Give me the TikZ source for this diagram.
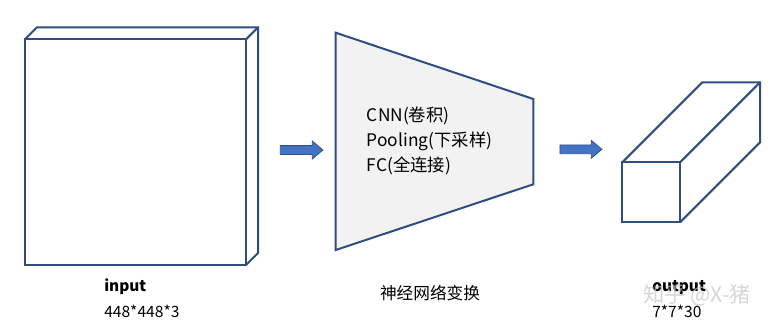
\documentclass[tikz,border=0pt]{standalone}
\usepackage{fontspec}
\setmainfont{Noto Sans CJK SC}
\usepackage{xcolor}
\definecolor{edgeColor}{HTML}{2F4D7E}
\definecolor{arrowFill}{HTML}{4472C4}
\definecolor{arrowEdge}{HTML}{2F528F}
\definecolor{netFill}{HTML}{F2F2F2}
\usepackage{tikz}
\usetikzlibrary{shapes.arrows}
\tikzset{
  cubeface/.style={
    draw=edgeColor,
    line width=1.5pt,
    fill=white,
    inner sep=0pt,
    outer sep=0pt
  },
  cubeedge/.style={
    draw=edgeColor,
    line width=1.5pt,
    line join=miter
  },
  flowarrow/.style={
    single arrow,
    draw=arrowEdge,
    fill=arrowFill,
    line width=0.6pt,
    inner sep=3pt,
    single arrow head extend=3.4pt,
    single arrow tip angle=80,
    minimum height=32pt
  },
  dimlabel/.style={
    anchor=west,
    inner sep=0pt,
    font=\fontsize{11.7}{13}\selectfont
  },
  steptext/.style={
    anchor=west,
    inner sep=0pt,
    align=left,
    font=\fontsize{13}{18.75}\selectfont
  }
}

\begin{document}
\begin{tikzpicture}[x=0.75pt,y=-0.75pt]
  \fill[white] (0,0) rectangle (784,328);
  \useasboundingbox (0,0) rectangle (784,328);
  % input block
  \node[cubeface,minimum width=165.75pt,minimum height=169.3pt] (inputface) at (135.5,152.2) {};
  \draw[cubeedge] (inputface.north west) -- ++(12,-12) -- ++(221,0) -- ([shift={(12,-12)}]inputface.south east) -- (inputface.south east);
  \draw[cubeedge] (inputface.north east) -- ++(12,-12);
  \node[dimlabel,font=\fontsize{11.5}{13}\selectfont\bfseries] (inputname) at (104,287) {input};
  \node[dimlabel] (inputsize) at (104,311.7) {448*448*3};
  % network
  \coordinate (netTL) at (335.7,32.7);
  \coordinate (netTR) at (533.3,99);
  \coordinate (netBR) at (533.3,184.3);
  \coordinate (netBL) at (335.7,250);
  \draw[cubeedge,fill=netFill] (netTL) -- (netTR) -- (netBR) -- (netBL) -- cycle;
  \node[steptext] (netsteps) at (366.7,141) {CNN(卷积)\\Pooling(下采样)\\FC(全连接)};
  \node[font=\fontsize{12.5}{14}\selectfont,inner sep=0pt] (netname) at (430,292.7) {神经网络变换};
  % arrows
  \node[flowarrow] (arrowin) at (299,150) {};
  \node[flowarrow,minimum height=31.5pt] (arrowout) at (578.3,149.3) {};
  % output block
  \node[cubeface,minimum width=43.3pt,minimum height=45pt] (outputface) at (651.2,192.3) {};
  \draw[cubeedge] (outputface.north west) -- ++(80,-80) -- ++(57.7,0) -- ([shift={(80,-80)}]outputface.south east) -- (outputface.south east);
  \draw[cubeedge] (outputface.north east) -- ++(80,-80);
  \node[dimlabel,font=\fontsize{11.5}{13}\selectfont\bfseries] (outputname) at (652,287.7) {output};
  \node[dimlabel] (outputsize) at (652,311.7) {7*7*30};
  \node[anchor=west,inner sep=0pt,text=gray!45,opacity=0.7,font=\fontsize{16}{18}\selectfont] (watermark) at (643,295) {知乎 @X-猪};
\end{tikzpicture}
\end{document}
